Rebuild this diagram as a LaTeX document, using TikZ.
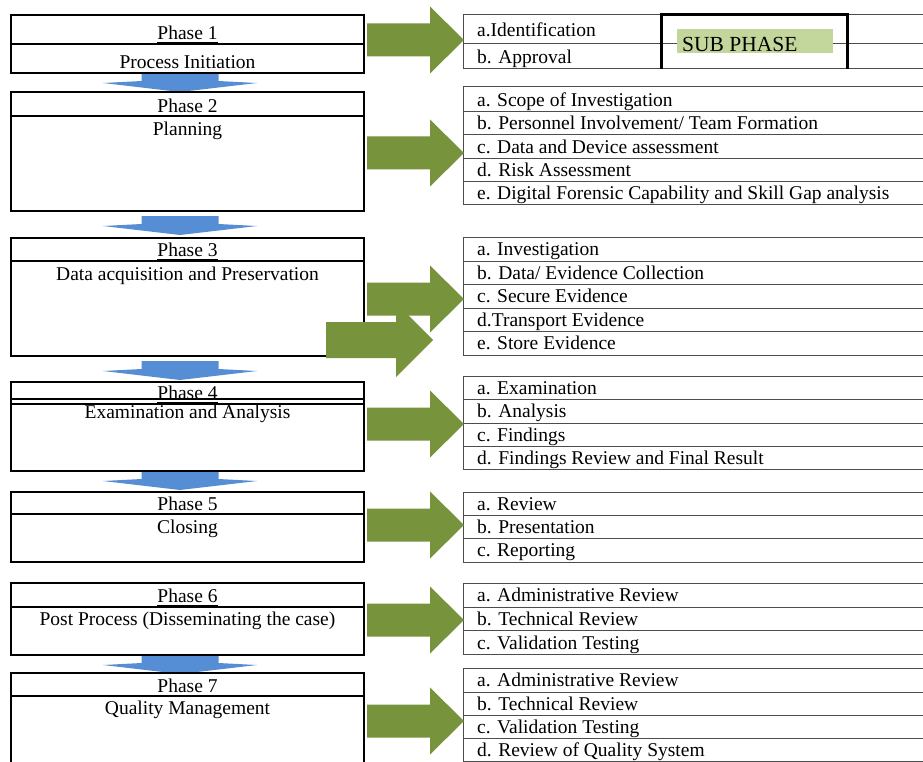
\documentclass[tikz,border=0pt]{standalone}
\usepackage{fontspec}
\setmainfont{Liberation Serif}
\definecolor{olivearrow}{HTML}{77933C}
\definecolor{flowblue}{HTML}{558ED5}
\definecolor{subfill}{HTML}{C3D69B}

\begin{document}
\begin{tikzpicture}[x=1pt,y=-1pt,
  phasebox/.style={draw=black, line width=1.3pt},
  tableline/.style={draw=black!70, line width=1pt},
  txt/.style={font=\fontsize{19.5}{22}\selectfont, inner sep=0pt, anchor=base, yshift=-1.3pt},
  item/.style={txt, anchor=base west},
  ttl/.style={txt, append after command={([yshift=-2.8pt]\tikzlastnode.base west) edge[line width=0.9pt] ([yshift=-2.8pt]\tikzlastnode.base east)}},
  greenfill/.style={fill=olivearrow},
  bluefill/.style={fill=flowblue},
  greenarrow/.pic={\fill[greenfill] (-97,-16.5) -- (-34,-16.5) -- (-34,-33.5) -- (0,0) -- (-34,33.5) -- (-34,16.5) -- (-97,16.5) -- cycle;},
  flowarrow/.pic={\fill[bluefill] (-38.5,0) -- (38.5,0) -- (38.5,8) -- (77,10) -- (0,19) -- (-77,10) -- (-38.5,8) -- cycle;}
]
\useasboundingbox (0,0) rectangle (923,762);
\fill[white] (0,0) rectangle (923,762);

% blue flow arrows between the phases
\foreach \t in {73,216,361,471,655} \pic at (180,\t) {flowarrow};

% phase boxes
\draw[phasebox] (11,15) rectangle (364,73);
\draw[phasebox] (11,44) -- (364,44);
\node[ttl] (p1t) at (187.5,38) {Phase 1};
\node[txt] (p1s) at (187.5,67) {Process Initiation};

\draw[phasebox] (11,92) rectangle (364,211);
\draw[phasebox] (11,116) -- (364,116);
\node[ttl] (p2t) at (187.5,111) {Phase 2};
\node[txt] (p2s) at (187.5,134) {Planning};

\draw[phasebox] (11,238) rectangle (364,356);
\draw[phasebox] (11,261) -- (364,261);
\node[ttl] (p3t) at (187.5,255) {Phase 3};
\node[txt] (p3s) at (187.5,279) {Data acquisition and Preservation};

\draw[phasebox] (11,382) rectangle (364,471);
\draw[phasebox] (11,399) -- (364,399);
\draw[phasebox] (11,404) -- (364,404);
\node[ttl] (p4t) at (187.5,398.5) {Phase 4};
\node[txt] (p4s) at (187.5,416.7) {Examination and Analysis};

\draw[phasebox] (11,492) rectangle (364,562);
\draw[phasebox] (11,514) -- (364,514);
\node[ttl] (p5t) at (187.5,509) {Phase 5};
\node[txt] (p5s) at (187.5,532) {Closing};

\draw[phasebox] (11,583) rectangle (364,655);
\draw[phasebox] (11,607) -- (364,607);
\node[ttl] (p6t) at (187.5,601) {Phase 6};
\node[txt] (p6s) at (187.5,624) {Post Process (Disseminating the case)};

\draw[phasebox] (11,763) -- (11,673) -- (364,673) -- (364,763);
\draw[phasebox] (11,696) -- (364,696);
\node[ttl] (p7t) at (187.5,691) {Phase 7};
\node[txt] (p7s) at (187.5,713) {Quality Management};

% sub-phase tables
\foreach \y in {15,44,69} \draw[tableline] (463,\y) -- (923,\y);
\draw[tableline] (463,15) -- (463,69);
\node[item] (s1a) at (477,35) {a.Identification};
\node[item] (s1b) at (477,62) {b. Approval};

\foreach \y in {87,111.7,135,158.3,181.7,204.5} \draw[tableline] (463,\y) -- (923,\y);
\draw[tableline] (463,87) -- (463,204.5);
\node[item] (s2a) at (477,105) {a. Scope of Investigation};
\node[item] (s2b) at (477,128.5) {b. Personnel Involvement/ Team Formation};
\node[item] (s2c) at (477,152) {c. Data and Device assessment};
\node[item] (s2d) at (477,175.3) {d. Risk Assessment};
\node[item] (s2e) at (477,198.7) {e. Digital Forensic Capability and Skill Gap analysis};

\foreach \y in {237.5,261,284.3,308,331.7,355.5} \draw[tableline] (463,\y) -- (923,\y);
\draw[tableline] (463,237.5) -- (463,355.5);
\node[item] (s3a) at (477,254.5) {a. Investigation};
\node[item] (s3b) at (477,278) {b. Data/ Evidence Collection};
\node[item] (s3c) at (477,301.3) {c. Secure Evidence};
\node[item] (s3d) at (477,325) {d.Transport Evidence};
\node[item] (s3e) at (477,348.5) {e. Store Evidence};

\foreach \y in {376,399.3,423,446,469.3} \draw[tableline] (463,\y) -- (923,\y);
\draw[tableline] (463,376) -- (463,469.3);
\node[item] (s4a) at (477,393) {a. Examination};
\node[item] (s4b) at (477,416.3) {b. Analysis};
\node[item] (s4c) at (477,440) {c. Findings};
\node[item] (s4d) at (477,463.3) {d. Findings Review and Final Result};

\foreach \y in {492,515,538.3,562} \draw[tableline] (463,\y) -- (923,\y);
\draw[tableline] (463,492) -- (463,562);
\node[item] (s5a) at (477,509) {a. Review};
\node[item] (s5b) at (477,532) {b. Presentation};
\node[item] (s5c) at (477,555.3) {c. Reporting};

\foreach \y in {583,607,630.7,654.3} \draw[tableline] (463,\y) -- (923,\y);
\draw[tableline] (463,583) -- (463,654.3);
\node[item] (s6a) at (477,600.5) {a. Administrative Review};
\node[item] (s6b) at (477,624) {b. Technical Review};
\node[item] (s6c) at (477,647.7) {c. Validation Testing};

\foreach \y in {668.3,692,715,738.3,761.3} \draw[tableline] (463,\y) -- (923,\y);
\draw[tableline] (463,668.3) -- (463,761.3);
\node[item] (s7a) at (477,685.5) {a. Administrative Review};
\node[item] (s7b) at (477,709) {b. Technical Review};
\node[item] (s7c) at (477,732) {c. Validation Testing};
\node[item] (s7d) at (477,755.5) {d. Review of Quality System};

% sub phase legend
\fill[subfill] (677,29) rectangle (833,53);
\node[txt, anchor=base west, font=\fontsize{21.5}{24}\selectfont] (legend) at (682,50) {SUB PHASE};
\draw[line width=3pt] (661,69) -- (661,15) -- (847,15) -- (847,69);

% green arrows pointing at the sub-phase tables
\foreach \c in {40,153,299,424,525,620,721} \pic at (464,\c) {greenarrow};
\fill[greenfill] (326,322) -- (396,322) -- (396,303) -- (433,340) -- (396,377) -- (396,358) -- (326,358) -- cycle;
\end{tikzpicture}
\end{document}
